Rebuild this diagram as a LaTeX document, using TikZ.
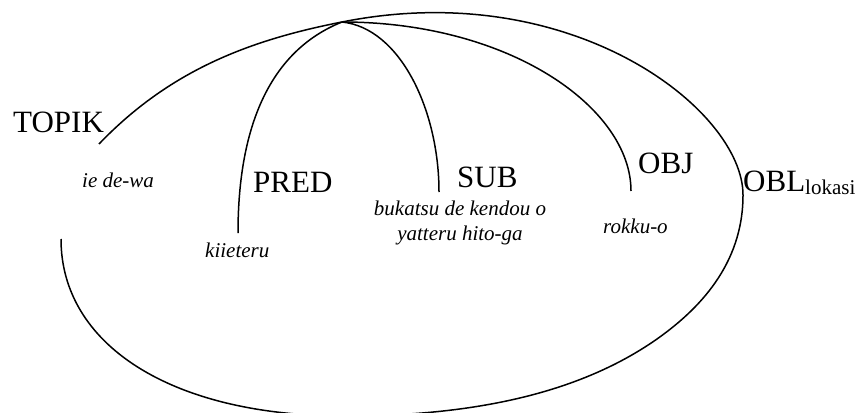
\documentclass[tikz,border=0pt]{standalone}
\usepackage{fontspec}
\setmainfont{Liberation Serif}
\tikzset{
  fungsi/.style={font=\fontsize{31}{31}\selectfont, inner sep=0pt, anchor=base west},
  frasa/.style={font=\fontsize{21}{25}\selectfont\itshape, inner sep=0pt, anchor=base west},
  garis/.style={line width=1.5pt}
}
\begin{document}
\begin{tikzpicture}[x=1pt,y=-1pt]
            \useasboundingbox (0,0) rectangle (858,412);
            \clip (0,0) rectangle (858,412);
            % ends of the arcs
            \coordinate (top) at (342,22);
            \coordinate (topikEnd) at (99,144);
            \coordinate (predEnd) at (238,233);
            \coordinate (subEnd) at (439,192);
            \coordinate (objEnd) at (631,191);
            \coordinate (oblEnd) at (61,239);
            \coordinate (kanan) at (743,195);
            \coordinate (tengah) at (657,339);
            \coordinate (bawah) at (345,416);
            % functions
            \node[fungsi] (topik) at (13,132) {TOPIK};
            \node[fungsi] (pred) at (253,192) {PRED};
            \node[fungsi] (sub) at (457,187) {SUB};
            \node[fungsi] (obj) at (638,173) {OBJ};
            \node[fungsi] (obl) at (743,191) {OBL\raisebox{-3.5pt}{\fontsize{21}{21}\selectfont lokasi}};
            % phrases
            \node[frasa] (iedewa) at (82,187) {ie de-wa};
            \node[frasa] (kiieteru) at (205,257) {kiieteru};
            \node[frasa, anchor=base, align=center] (hitoga) at (460,240) {bukatsu de kendou o\\yatteru hito-ga};
            \node[frasa] (rokkuo) at (603,233) {rokku-o};
            % arcs
            \draw[garis] (topikEnd) .. controls (170,70) and (250,40) .. (top);
            \draw[garis] (top) .. controls (272,50) and (238,123) .. (predEnd);
            \draw[garis] (top) .. controls (400,28) and (439,110) .. (subEnd);
            \draw[garis] (top) .. controls (510,22) and (631,108) .. (objEnd);
            \draw[garis] (top) .. controls (572,-24) and (743,110) .. (kanan)
                .. controls (743,265) and (698,310) .. (tengah)
                .. controls (575,396.5) and (465,416) .. (bawah)
                .. controls (170,416) and (61,344) .. (oblEnd);
        \end{tikzpicture}
\end{document}
